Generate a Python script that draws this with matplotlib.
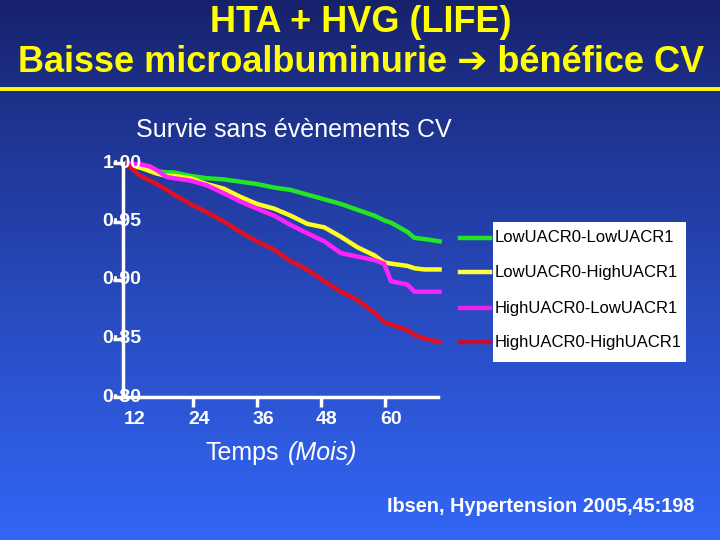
import numpy as np
import matplotlib
matplotlib.use("Agg")
import matplotlib.pyplot as plt
from matplotlib.patches import Rectangle
from matplotlib.lines import Line2D
import matplotlib.transforms as mtransforms

# ---------------- data ----------------
months = [11.6, 14.1, 16.0, 17.2, 19.1, 20.4, 23.5, 26.6, 29.8, 32.9, 36.0, 39.2,
          42.3, 45.4, 48.6, 51.7, 54.8, 58.0, 59.8, 61.1, 64.2, 65.5, 67.4, 70.2]
low_low = [1.000, 0.998, 0.995, 0.993, 0.992, 0.992, 0.989, 0.987, 0.986, 0.984, 0.982, 0.979,
           0.977, 0.973, 0.969, 0.965, 0.960, 0.955, 0.951, 0.949, 0.941, 0.936, 0.935, 0.933]
low_high = [0.999, 0.996, 0.993, 0.991, 0.989, 0.989, 0.987, 0.982, 0.978, 0.971, 0.965, 0.961,
            0.955, 0.948, 0.945, 0.937, 0.928, 0.921, 0.915, 0.914, 0.912, 0.910, 0.909, 0.909]
high_low = [0.999, 0.999, 0.997, 0.994, 0.988, 0.987, 0.985, 0.981, 0.974, 0.967, 0.961, 0.955,
            0.947, 0.940, 0.933, 0.923, 0.920, 0.917, 0.914, 0.899, 0.896, 0.890, 0.890, 0.890]
high_high = [0.999, 0.989, 0.985, 0.982, 0.977, 0.973, 0.965, 0.958, 0.950, 0.941, 0.933, 0.926,
             0.916, 0.909, 0.899, 0.890, 0.883, 0.872, 0.864, 0.862, 0.857, 0.853, 0.850, 0.847]
series_names = ["LowUACR0-LowUACR1", "LowUACR0-HighUACR1",
                "HighUACR0-LowUACR1", "HighUACR0-HighUACR1"]
series_values = [low_low, low_high, high_low, high_high]
series_colors = ["#22e622", "#ffff22", "#ff22ff", "#e01020"]
legend_colors = ["#22e622", "#ffff44", "#ee22ee", "#c01030"]

x_ticks = [12, 24, 36, 48, 60]
x_tick_labels = ["12", "24", "36", "48", "60"]
y_ticks = [0.80, 0.85, 0.90, 0.95, 1.00]
y_tick_labels = ["0·80", "0·85", "0·90", "0·95", "1·00"]

W, H = 720, 540
fam = ["Liberation Sans", "DejaVu Sans"]
plt.rcParams['font.family'] = fam

fig = plt.figure(figsize=(W / 100, H / 100), dpi=100)

# background gradient
bg = fig.add_axes([0, 0, 1, 1])
top = np.array([0.09, 0.13, 0.42])
bot = np.array([0.20, 0.40, 0.96])
t = np.linspace(0, 1, 256)[:, None, None]
grad = top + (bot - top) * t ** 0.9
grad = np.repeat(grad, 2, axis=1)
bg.imshow(grad, aspect='auto', extent=[0, 1, 0, 1], origin='upper')
bg.set_xlim(0, 1)
bg.set_ylim(0, 1)
bg.axis('off')

def fx(px):
    return px / W

def fy(py):
    return 1 - py / H

# title
fig.text(fx(361), fy(22), "HTA + HVG (LIFE)", color="#ffff00", fontsize=26,
         fontweight='bold', ha='center', va='center', family=fam)
fig.text(fx(361), fy(63), "Baisse microalbuminurie ➔ bénéfice CV", color="#ffff00",
         fontsize=26, fontweight='bold', ha='center', va='center', family=fam)
fig.add_artist(Line2D([0, 1], [fy(89), fy(89)], color="#ffff00", lw=2.8,
                      transform=fig.transFigure))

fig.text(fx(136), fy(130), "Survie sans évènements CV", color="white", fontsize=18,
         ha='left', va='center')

# main axes
L, R, B, T = 123, 438, 397, 163
ax = fig.add_axes([fx(L), fy(B), fx(R) - fx(L), fy(T) - fy(B)])
ax.patch.set_alpha(0)
ax.set_xlim(10.9, 69.9)
ax.set_ylim(0.80, 1.00)
for name, vals, col in zip(series_names, series_values, series_colors):
    ax.plot(months, vals, color=col, lw=3.2, clip_on=False, solid_joinstyle='miter')

for s in ['top', 'right']:
    ax.spines[s].set_visible(False)
for s in ['left', 'bottom']:
    ax.spines[s].set_color('white')
    ax.spines[s].set_linewidth(2.5)
ax.set_xticks(x_ticks[1:])
ax.set_xticklabels([])
ax.tick_params(axis='x', colors='white', length=7, width=2.5, direction='out')
ax.set_yticks(y_ticks)
ax.set_yticklabels([])
ax.tick_params(axis='y', colors='white', length=7, width=2.5, direction='out')

# x tick labels (shifted slightly right as in reference)
off = mtransforms.ScaledTranslation(6 / 100, 0, fig.dpi_scale_trans)
xt = mtransforms.blended_transform_factory(ax.transData, fig.transFigure) + off
for v, lab in zip(x_ticks, x_tick_labels):
    ax.text(v, fy(420), lab, transform=xt, color='white', fontsize=14,
            fontweight='bold', ha='center', va='center')
yt = mtransforms.blended_transform_factory(fig.transFigure, ax.transData)
for v, lab in zip(y_ticks, y_tick_labels):
    ax.text(fx(122), v, lab, transform=yt, color='white', fontsize=14,
            fontweight='bold', ha='center', va='center')

fig.text(fx(205), fy(453), "Temps", color='white', fontsize=18, ha='left', va='center')
fig.text(fx(288), fy(453), "(Mois)", color='white', fontsize=18, style='italic',
         ha='left', va='center')

# legend
fig.add_artist(Rectangle((fx(493), fy(362)), fx(686) - fx(493), fy(222) - fy(362),
                         transform=fig.transFigure, facecolor='white', edgecolor='none'))
row_y = [238, 272, 308, 342]
for name, col, ry in zip(series_names, legend_colors, row_y):
    fig.add_artist(Line2D([fx(460), fx(490)], [fy(ry), fy(ry)], color=col, lw=3.2,
                          transform=fig.transFigure))
    fig.text(fx(495), fy(ry), name, color='black', fontsize=12, ha='left', va='center')

fig.text(fx(387), fy(507), "Ibsen, Hypertension 2005,45:198", color='white',
         fontsize=14.3, fontweight='bold', ha='left', va='center')

fig.savefig("out.png", dpi=100)
